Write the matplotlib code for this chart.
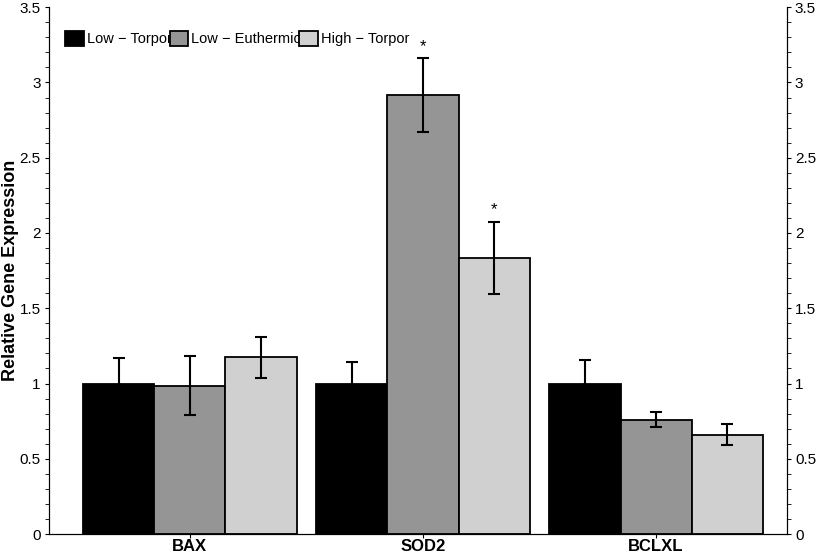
import numpy as np
import matplotlib.pyplot as plt
from matplotlib.ticker import MultipleLocator, FormatStrFormatter

plt.rcParams['font.family'] = ['Liberation Sans', 'DejaVu Sans']

genes = ["BAX", "SOD2", "BCLXL"]
groups = ["Low \u2212 Torpor", "Low \u2212 Euthermic", "High \u2212 Torpor"]
means = {
    "Low \u2212 Torpor": [1.0, 1.0, 1.0],
    "Low \u2212 Euthermic": [0.985, 2.915, 0.76],
    "High \u2212 Torpor": [1.175, 1.835, 0.66],
}
errs = {
    "Low \u2212 Torpor": [0.17, 0.14, 0.155],
    "Low \u2212 Euthermic": [0.195, 0.245, 0.05],
    "High \u2212 Torpor": [0.135, 0.24, 0.07],
}
# significance markers (group, gene index)
stars = [("Low \u2212 Euthermic", 1), ("High \u2212 Torpor", 1)]

colors = ["#000000", "#959595", "#d0d0d0"]
width = 0.305

fig = plt.figure(figsize=(8.28, 5.54), dpi=100)
ax = fig.add_axes([0.059, 0.036, 0.891, 0.951])
x = np.arange(len(genes))

for i, g in enumerate(groups):
    pos = x + (i - 1) * width
    ax.bar(pos, means[g], width, color=colors[i], edgecolor="black",
           linewidth=1.3, label=g, zorder=2)
    ax.errorbar(pos, means[g], yerr=errs[g], fmt="none", ecolor="black",
                elinewidth=1.5, capsize=4, capthick=1.5, zorder=3)

for g, j in stars:
    i = groups.index(g)
    ax.text(x[j] + (i - 1) * width, means[g][j] + errs[g][j] + 0.03, "*",
            ha="center", va="bottom", fontsize=12)

ax.set_xlim(-0.605, 2.56)
ax.set_ylim(0, 3.5)
ax.set_xticks(x)
ax.set_xticklabels(genes, fontsize=12, fontweight="bold")
ax.tick_params(axis="x", length=3, pad=0.5)
ax.yaxis.set_major_locator(MultipleLocator(0.5))
ax.yaxis.set_minor_locator(MultipleLocator(0.1))
ax.yaxis.set_major_formatter(FormatStrFormatter("%g"))
ax.tick_params(axis="y", which="major", length=3, labelsize=11, pad=3)
ax.tick_params(axis="y", which="minor", length=3)
ax.set_ylabel("Relative Gene Expression", fontsize=13, fontweight="bold")
ax.yaxis.set_label_coords(-0.041, 0.5)
ax.spines["top"].set_visible(False)

ax2 = ax.twinx()
ax2.set_ylim(0, 3.5)
ax2.yaxis.set_major_locator(MultipleLocator(0.5))
ax2.yaxis.set_minor_locator(MultipleLocator(0.1))
ax2.yaxis.set_major_formatter(FormatStrFormatter("%g"))
ax2.tick_params(axis="y", which="major", length=3, labelsize=11, pad=3)
ax2.tick_params(axis="y", which="minor", length=3)
ax2.spines["top"].set_visible(False)

ax.legend(loc="upper left", bbox_to_anchor=(0.008, 0.975), ncol=3, frameon=False,
          fontsize=10.5, handlelength=1.3, handleheight=1.3, handletextpad=0.2,
          columnspacing=-0.15, borderaxespad=0.3)

fig.savefig("out.png", dpi=100)
